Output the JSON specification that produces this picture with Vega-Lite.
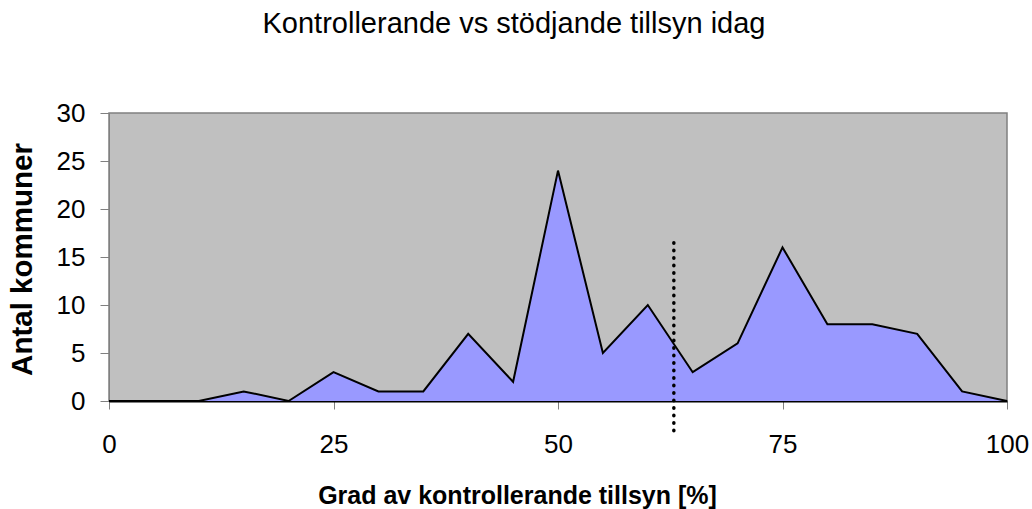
{
  "$schema": "https://vega.github.io/schema/vega-lite/v6.json",
  "autosize": "none",
  "width": 898,
  "height": 288,
  "padding": {"left": 109, "top": 113, "right": 25, "bottom": 108},
  "background": "white",
  "title": {
    "text": "Kontrollerande vs stödjande tillsyn idag",
    "font": "Liberation Sans",
    "fontSize": 29,
    "fontWeight": "normal",
    "color": "black",
    "anchor": "middle",
    "baseline": "alphabetic",
    "dx": -44,
    "offset": 38
  },
  "config": {
    "view": {"fill": "#C0C0C0", "stroke": "#808080", "strokeWidth": 1.5},
    "axis": {
      "labelFont": "Liberation Sans",
      "titleFont": "Liberation Sans",
      "labelColor": "black",
      "titleColor": "black",
      "grid": false
    }
  },
  "datasets": {
    "dist": [
      {"grad": 0, "antal": 0},
      {"grad": 5, "antal": 0},
      {"grad": 10, "antal": 0},
      {"grad": 15, "antal": 1},
      {"grad": 20, "antal": 0},
      {"grad": 25, "antal": 3},
      {"grad": 30, "antal": 1},
      {"grad": 35, "antal": 1},
      {"grad": 40, "antal": 7},
      {"grad": 45, "antal": 2},
      {"grad": 50, "antal": 24},
      {"grad": 55, "antal": 5},
      {"grad": 60, "antal": 10},
      {"grad": 65, "antal": 3},
      {"grad": 70, "antal": 6},
      {"grad": 75, "antal": 16},
      {"grad": 80, "antal": 8},
      {"grad": 85, "antal": 8},
      {"grad": 90, "antal": 7},
      {"grad": 95, "antal": 1},
      {"grad": 100, "antal": 0}
    ],
    "marker": [{"grad": 62.9, "y1": -3.1, "y2": 17.2}]
  },
  "layer": [
    {
      "data": {"name": "dist"},
      "mark": {"type": "area", "color": "#9999FF", "line": false},
      "encoding": {
        "x": {
          "field": "grad",
          "type": "quantitative",
          "scale": {"domain": [0, 100], "nice": false, "zero": false},
          "axis": {
            "values": [0, 25, 50, 75, 100],
            "title": "Grad av kontrollerande tillsyn [%]",
            "titleFontSize": 25,
            "titleFontWeight": "bold",
            "titleX": 408,
            "titleY": 102,
            "titleBaseline": "alphabetic",
            "titleAlign": "center",
            "labelFontSize": 26,
            "labelPadding": 22,
            "tickSize": 8,
            "tickColor": "#808080",
            "domainColor": "black",
            "domainWidth": 2,
            "labelFlush": false
          }
        },
        "y": {
          "field": "antal",
          "type": "quantitative",
          "scale": {"domain": [0, 30], "nice": false},
          "axis": {
            "values": [0, 5, 10, 15, 20, 25, 30],
            "title": "Antal kommuner",
            "titleFontSize": 29.5,
            "titleFontWeight": "bold",
            "titleX": -87,
            "titleY": 146,
            "titleAngle": -90,
            "titleAlign": "center",
            "titleBaseline": "middle",
            "labelFontSize": 26,
            "labelPadding": 15,
            "tickSize": 9,
            "tickColor": "#808080",
            "domainColor": "#808080",
            "labelFlush": false
          }
        }
      }
    },
    {
      "data": {"name": "dist"},
      "mark": {"type": "line", "color": "black", "strokeWidth": 2},
      "encoding": {
        "x": {"field": "grad", "type": "quantitative"},
        "y": {"field": "antal", "type": "quantitative"}
      }
    },
    {
      "data": {"name": "marker"},
      "mark": {"type": "rule", "color": "black", "strokeWidth": 3.5, "strokeDash": [0.5, 7], "strokeCap": "round"},
      "encoding": {
        "x": {"field": "grad", "type": "quantitative"},
        "y": {"field": "y1", "type": "quantitative"},
        "y2": {"field": "y2"}
      }
    }
  ]
}
